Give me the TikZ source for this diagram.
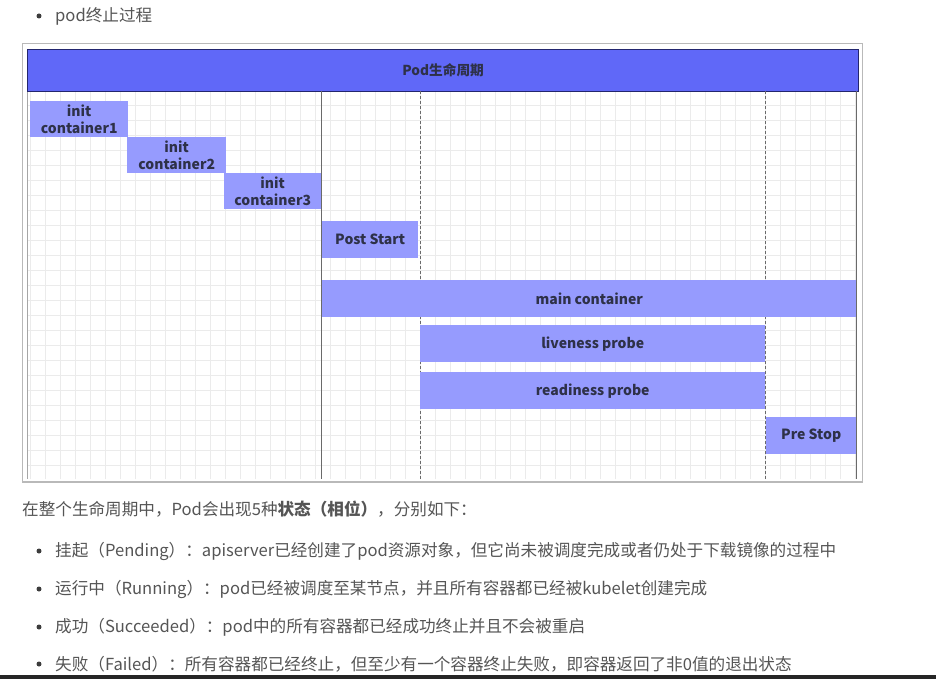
\documentclass[tikz,border=0pt]{standalone}
\usepackage{fontspec}
\setmainfont{Noto Sans CJK SC}
\definecolor{barc}{HTML}{6068F8}
\definecolor{barline}{HTML}{23266E}
\definecolor{boxc}{HTML}{969BFE}
\definecolor{boxtext}{HTML}{2E3148}
\definecolor{gridc}{HTML}{EBEBEB}
\definecolor{linec}{HTML}{6A6A6A}
\definecolor{bodyc}{HTML}{555555}
\tikzset{
  phase/.style={fill=boxc, draw=none, inner sep=0pt, anchor=north west, align=center,
    text=boxtext, font=\fontsize{14}{17.5}\selectfont\bfseries},
  sepsolid/.style={draw=linec, line width=0.8pt},
  sepdash/.style={draw=linec, line width=0.8pt, dash pattern=on 3pt off 2pt},
  bodytext/.style={anchor=west, inner sep=0pt, text=bodyc, font=\fontsize{16.6}{18}\selectfont},
  bulletdot/.style={circle, fill=bodyc!70!black, inner sep=0pt, minimum size=5pt},
}
\begin{document}
\begin{tikzpicture}[x=1pt,y=-1pt]
\useasboundingbox[fill=white] (0,0) rectangle (936,679);
% top bullet
\node[bulletdot] (b0) at (39,16) {};
\node[bodytext] (t0) at (55,16) {pod终止过程};
% frame
\draw[draw=gray!55, line width=1.6pt] (22.5,43.5) rectangle (862.5,482);
\fill[white] (27,91) rectangle (856,479);
\draw[gridc, line width=0.5pt, step=15pt] (27,91) grid (856,479);
\draw[draw=gray!70, line width=0.8pt] (27,91) -- (27,479);
% title bar
\node[fill=barc, draw=barline, line width=1.2pt, minimum width=831pt, minimum height=42pt,
  anchor=north west, inner sep=0pt, text=boxtext, font=\fontsize{13.7}{15}\selectfont\bfseries]
  (title) at (27,49) {Pod生命周期};
% separators
\draw[sepsolid] (321,91) -- (321,479);
\draw[sepdash] (420,91) -- (420,479);
\draw[sepdash] (765,91) -- (765,479);
\draw[sepsolid] (856,91) -- (856,479);
% phase boxes
\node[phase, minimum width=98pt, minimum height=36pt] (ic1) at (30,101) {init\\container1};
\node[phase, minimum width=99pt, minimum height=36pt] (ic2) at (127,137) {init\\container2};
\node[phase, minimum width=97pt, minimum height=36pt] (ic3) at (224,173) {init\\container3};
\node[phase, minimum width=96pt, minimum height=37pt] (ps) at (322,221) {Post Start};
\node[phase, minimum width=534pt, minimum height=37pt] (mc) at (322,280) {main container};
\node[phase, minimum width=345pt, minimum height=37pt] (lp) at (420,325) {liveness probe};
\node[phase, minimum width=345pt, minimum height=37pt] (rp) at (420,372) {readiness probe};
\node[phase, minimum width=90pt, minimum height=37pt] (pst) at (766,417) {Pre Stop};
% body text
\node[bodytext] (intro) at (22,509) {在整个生命周期中，Pod会出现5种\textbf{状态（相位）}，分别如下：};
\node[bulletdot] (b1) at (39,551) {};
\node[bodytext] (t1) at (55,551) {挂起（Pending）：apiserver已经创建了pod资源对象，但它尚未被调度完成或者仍处于下载镜像的过程中};
\node[bulletdot] (b2) at (39,589) {};
\node[bodytext] (t2) at (55,589) {运行中（Running）：pod已经被调度至某节点，并且所有容器都已经被kubelet创建完成};
\node[bulletdot] (b3) at (39,627) {};
\node[bodytext] (t3) at (55,627) {成功（Succeeded）：pod中的所有容器都已经成功终止并且不会被重启};
\node[bulletdot] (b4) at (39,664) {};
\node[bodytext] (t4) at (55,664) {失败（Failed）：所有容器都已经终止，但至少有一个容器终止失败，即容器返回了非0值的退出状态};
% bottom dark strip
\fill[black!85] (0,675) rectangle (936,679);
\end{tikzpicture}
\end{document}
